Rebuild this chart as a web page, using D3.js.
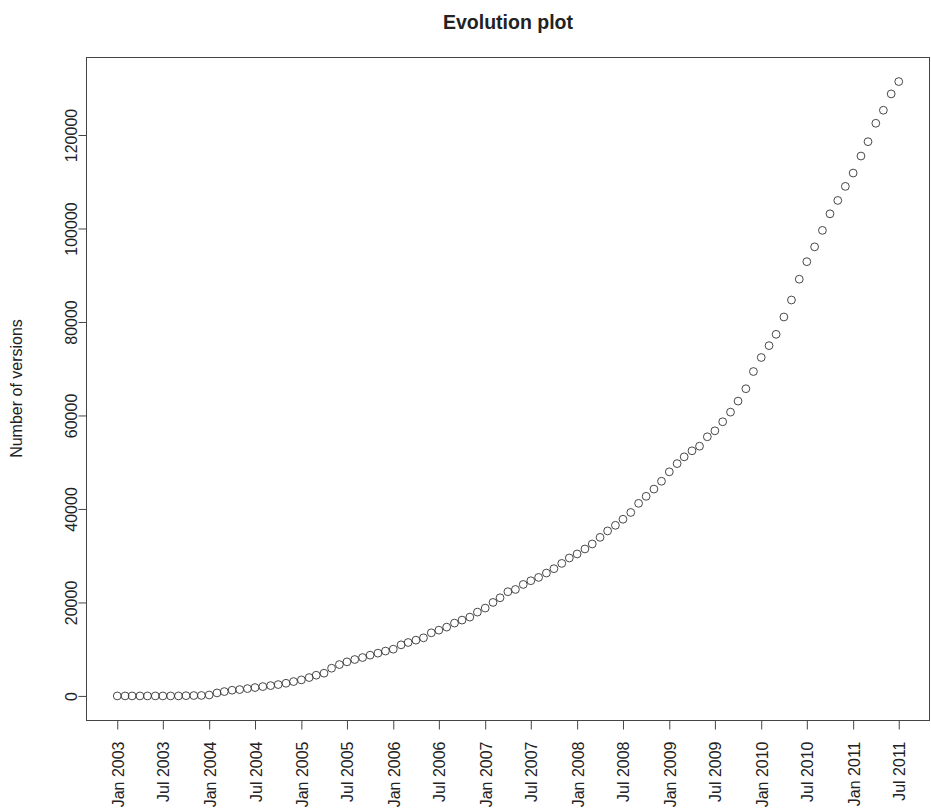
<!DOCTYPE html>
<html>
<head>
<meta charset="utf-8">
<script src="https://cdn.jsdelivr.net/npm/d3@7"></script>
<style>
  body { margin: 0; background: #fff; }
  svg text { font-family: "Liberation Sans", Arial, Helvetica, sans-serif; fill: #222; }
</style>
</head>
<body>
<div id="chart"></div>
<script>
let width = 931;
let height = 810;
let margin = ({top: 57, right: 1, bottom: 90, left: 86});

// first and last month of the series (one point per month)
let firstMonth = new Date(2003, 0, 1);
let lastMonth = new Date(2011, 6, 1);

// Number of versions, one value per month, Jan 2003 .. Jul 2011
let versions = [
    0, 0, 0, 0, 0, 0, 0, 0, 0, 50, 80, 100,
    200, 640, 930, 1220, 1360, 1570, 1790, 2000, 2210, 2430, 2710, 3070,
    3430, 3930, 4430, 4860, 5930, 6710, 7290, 7790, 8210, 8720, 9150, 9600,
    10000, 10930, 11430, 11930, 12430, 13500, 14070, 14720, 15580, 16220, 16860, 17930,
    18790, 20000, 21000, 22290, 22780, 23850, 24640, 25350, 26290, 27220, 28350, 29510,
    30370, 31440, 32510, 33920, 35300, 36500, 37800, 39250, 41200, 42700, 44250, 45930,
    47940, 49700, 51150, 52440, 53430, 55440, 56720, 58650, 60710, 63070, 65720, 69400,
    72400, 74940, 77360, 81070, 84700, 89150, 92900, 96070, 99600, 103140, 106000, 109010,
    111860, 115500, 118570, 122510, 125300, 128790, 131430
];

let yTicks = [0, 20000, 40000, 60000, 80000, 100000, 120000];

let xTickLabels = ["Jan 2003", "Jul 2003", "Jan 2004", "Jul 2004", "Jan 2005", "Jul 2005",
    "Jan 2006", "Jul 2006", "Jan 2007", "Jul 2007", "Jan 2008", "Jul 2008",
    "Jan 2009", "Jul 2009", "Jan 2010", "Jul 2010", "Jan 2011", "Jul 2011"];

let months = d3.timeMonth.range(firstMonth, d3.timeMonth.offset(lastMonth, 1));
let data = months.map((m, i) => ({date: m, value: versions[i]}));

let parseTick = d3.timeParse("%b %Y");
let tickDates = xTickLabels.map(parseTick);

let svg = d3.select("#chart")
    .append("svg")
    .attr("width", width)
    .attr("height", height);

// R style: extend the data range by 4% on each side
let xExt = d3.extent(months, d => +d);
let xPad = (xExt[1] - xExt[0]) * 0.04;
let xScale = d3.scaleTime()
    .domain([new Date(xExt[0] - xPad), new Date(xExt[1] + xPad)])
    .range([margin.left, width - margin.right]);

let yExt = d3.extent(versions);
let yPad = (yExt[1] - yExt[0]) * 0.04;
let yScale = d3.scaleLinear()
    .domain([yExt[0] - yPad, yExt[1] + yPad])
    .range([height - margin.bottom + 0.5, margin.top]);

// plot box
svg.append("rect")
    .attr("x", margin.left + 0.5)
    .attr("y", margin.top + 0.5)
    .attr("width", width - margin.left - margin.right - 1)
    .attr("height", height - margin.bottom - margin.top)
    .attr("fill", "none")
    .attr("stroke", "#444")
    .attr("stroke-width", 1);

// y axis
let yAxis = d3.axisLeft(yScale)
    .tickValues(yTicks)
    .tickSize(8)
    .tickFormat(d3.format("d"));

let gy = svg.append("g")
    .attr("transform", "translate(" + (margin.left + 0.5) + ",0)")
    .call(yAxis);
gy.select(".domain").remove();
gy.selectAll(".tick line").attr("stroke", "#444");
gy.selectAll(".tick text")
    .attr("x", null).attr("dy", null)
    .attr("text-anchor", "middle")
    .attr("transform", "translate(-10,0) rotate(-90)")
    .style("font-size", "16px");

// x axis
let xAxis = d3.axisBottom(xScale)
    .tickValues(tickDates)
    .tickSize(9)
    .tickFormat((d, i) => xTickLabels[i]);

let gx = svg.append("g")
    .attr("transform", "translate(0," + (height - margin.bottom + 0.5) + ")")
    .call(xAxis);
gx.select(".domain").remove();
gx.selectAll(".tick line").attr("stroke", "#444");
gx.selectAll(".tick text")
    .attr("y", null).attr("dy", null)
    .attr("text-anchor", "end")
    .attr("transform", "translate(6,21) rotate(-90)")
    .style("font-size", "16px");

// points
svg.append("g")
    .selectAll("circle")
    .data(data)
    .enter()
    .append("circle")
    .attr("cx", d => xScale(d.date))
    .attr("cy", d => yScale(d.value))
    .attr("r", 3.9)
    .attr("fill", "none")
    .attr("stroke", "#333")
    .attr("stroke-width", 0.9);

// title
svg.append("text")
    .attr("x", (margin.left + width - margin.right) / 2)
    .attr("y", 29)
    .attr("text-anchor", "middle")
    .style("font-size", "19.5px")
    .style("font-weight", "bold")
    .text("Evolution plot");

// y label
svg.append("text")
    .attr("transform", "translate(22," + ((margin.top + height - margin.bottom) / 2) + ") rotate(-90)")
    .attr("text-anchor", "middle")
    .style("font-size", "16px")
    .text("Number of versions");
</script>
</body>
</html>
